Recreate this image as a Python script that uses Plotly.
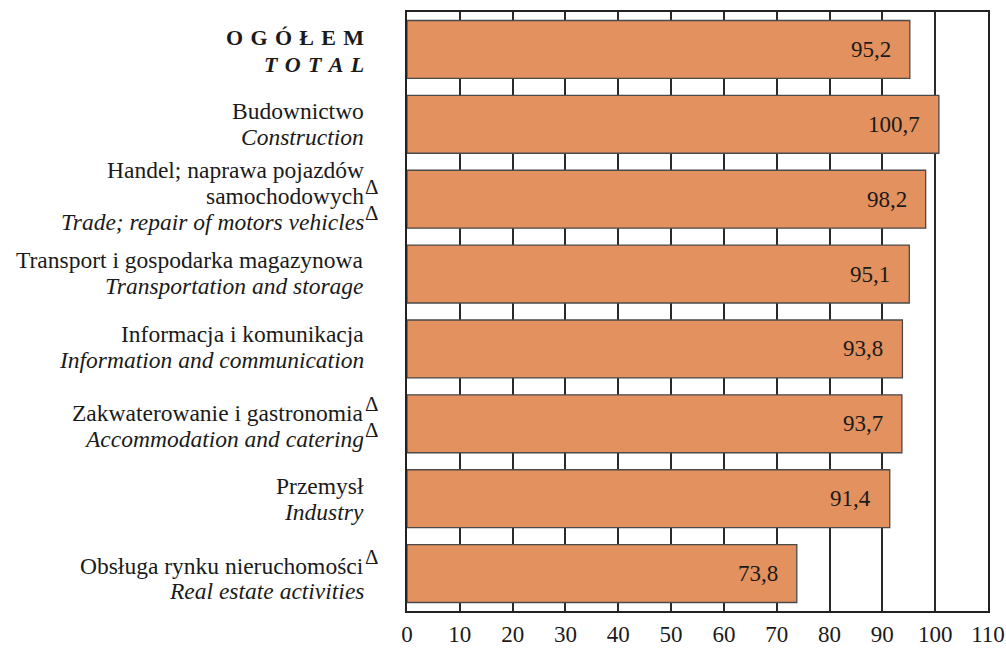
import plotly.graph_objects as go

categories_pl = ["OGÓŁEM", "Budownictwo", "Handel; naprawa pojazdów|samochodowych",
                 "Transport i gospodarka magazynowa", "Informacja i komunikacja",
                 "Zakwaterowanie i gastronomia", "Przemysł", "Obsługa rynku nieruchomości"]
categories_en = ["TOTAL", "Construction", "Trade; repair of motors vehicles",
                 "Transportation and storage", "Information and communication",
                 "Accommodation and catering", "Industry", "Real estate activities"]
values = [95.2, 100.7, 98.2, 95.1, 93.8, 93.7, 91.4, 73.8]
value_labels = ["95,2", "100,7", "98,2", "95,1", "93,8", "93,7", "91,4", "73,8"]
# which label lines carry a delta mark (indexes of lines)
delta_lines = [[], [], [1, 2], [], [], [0, 1], [], [0]]
tick_vals = [0, 10, 20, 30, 40, 50, 60, 70, 80, 90, 100, 110]

FONT = "Liberation Serif"
W, H = 1006, 648
ML, MR, MT, MB = 407, 1006 - 988, 12, 648 - 611
plot_w = W - ML - MR

idx = list(range(len(values)))

fig = go.Figure()
fig.add_trace(go.Bar(
    x=values, y=idx, orientation="h",
    marker=dict(color="#E3915E", line=dict(color="#4a4a4a", width=1.3)),
    hoverinfo="skip",
))

annotations = []
label_x = -(407 - 366) / plot_w
nudges = [2, 0, -3, -1, -2, 2, 0, 5]
gaps = [27, 26, 26, 26, 26, 26, 26, 25]

for i in idx:
    pl_lines = categories_pl[i].split("|")
    lines = [(t, "pl") for t in pl_lines] + [(categories_en[i], "en")]
    n = len(lines)
    for k, (t, lang) in enumerate(lines):
        off = (k - (n - 1) / 2) * gaps[i] + nudges[i]
        if i == 0:
            if lang == "pl":
                txt = "<b>" + "\u2004".join(list(t)) + "</b>"
            else:
                txt = "<b><i>" + "\u2004".join(list(t)) + "</i></b>"
            size = 22
        else:
            txt = t if lang == "pl" else "<i>" + t + "</i>"
            size = 23.5
        annotations.append(dict(
            x=label_x, xref="paper", y=i, yref="y", yshift=-off,
            text=txt, showarrow=False, xanchor="right", yanchor="middle",
            font=dict(family=FONT, size=size, color="#1a1a1a"),
        ))
        if k in delta_lines[i]:
            annotations.append(dict(
                x=label_x, xref="paper", y=i, yref="y", yshift=-off + 9, xshift=-3,
                text="Δ", showarrow=False, xanchor="left", yanchor="middle",
                font=dict(family=FONT, size=21, color="#1a1a1a"),
            ))
    annotations.append(dict(
        x=values[i], xref="x", y=i, yref="y", xshift=-17,
        text=value_labels[i], showarrow=False, xanchor="right", yanchor="middle",
        font=dict(family=FONT, size=23, color="#1a1a1a"),
    ))

fig.update_layout(
    width=W, height=H,
    margin=dict(l=ML, r=MR, t=MT, b=MB, autoexpand=False),
    paper_bgcolor="white", plot_bgcolor="white",
    showlegend=False, bargap=0.227,
    annotations=annotations,
    xaxis=dict(
        range=[0, 110], tickvals=tick_vals, ticktext=[str(v) for v in tick_vals],
        showgrid=True, gridcolor="#2a2a2a", gridwidth=1.6,
        showline=True, linecolor="#222222", linewidth=2.2, mirror=True,
        ticks="outside", ticklen=1, tickcolor="rgba(0,0,0,0)",
        tickfont=dict(family=FONT, size=23, color="#1a1a1a"),
        zeroline=False, fixedrange=True, automargin=False,
    ),
    yaxis=dict(
        range=[len(values) - 0.5, -0.5], showticklabels=False, showgrid=False,
        showline=True, linecolor="#222222", linewidth=2.2, mirror=True,
        zeroline=False, ticks="", fixedrange=True, automargin=False,
    ),
)

fig.write_html(
    "out.html",
    config={"displayModeBar": False},
    post_script="document.body.style.margin='0';document.body.style.overflow='hidden';",
)
